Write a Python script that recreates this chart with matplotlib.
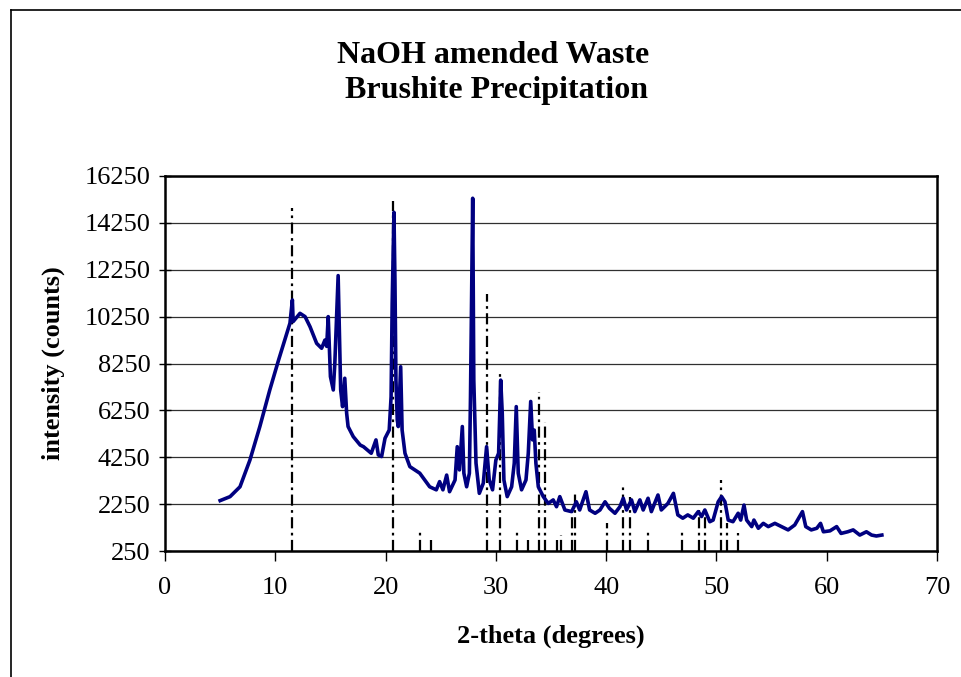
import numpy as np
import matplotlib
matplotlib.use("Agg")
import matplotlib.pyplot as plt
from matplotlib.lines import Line2D

plt.rcParams['font.family'] = ['Liberation Serif', 'DejaVu Serif']

two_theta = [5.0, 5.9, 6.8, 7.7, 8.6, 9.5, 10.3, 11.0, 11.33, 11.55, 11.62, 12.24, 12.7,
             13.15, 13.75, 14.2, 14.5, 14.66, 14.8, 15.0, 15.26, 15.4, 15.7, 15.93, 16.1,
             16.3, 16.47, 16.6, 17.07, 17.7, 18.0, 18.7, 19.13, 19.34, 19.64, 19.95, 20.33,
             20.5, 20.6, 20.76, 20.85, 20.94, 21.06, 21.15, 21.37, 21.5, 21.76, 22.2, 23.1,
             24.0, 24.6, 24.9, 25.2, 25.54, 25.8, 26.3, 26.5, 26.7, 26.96, 27.1, 27.35,
             27.6, 27.7, 27.9, 28.0, 28.2, 28.5, 28.86, 29.16, 29.4, 29.7, 30.0, 30.25,
             30.44, 30.58, 30.73, 31.03, 31.43, 31.67, 31.85, 32.03, 32.33, 32.73, 32.94,
             33.16, 33.33, 33.48, 33.63, 33.85, 34.3, 34.75, 35.2, 35.5, 35.8, 36.26, 36.87,
             37.3, 37.6, 38.17, 38.5, 39.0, 39.44, 39.9, 40.3, 40.8, 41.25, 41.55, 41.85,
             42.3, 42.6, 43.06, 43.36, 43.8, 44.1, 44.7, 45.0, 45.6, 46.1, 46.5, 46.95,
             47.4, 47.9, 48.35, 48.65, 48.95, 49.4, 49.7, 50.16, 50.47, 50.77, 51.07, 51.5,
             51.97, 52.2, 52.5, 52.74, 53.2, 53.4, 53.8, 54.25, 54.7, 55.3, 55.9, 56.5,
             57.1, 57.8, 58.1, 58.6, 59.1, 59.44, 59.7, 60.3, 60.9, 61.3, 61.9, 62.4,
             63.0, 63.6, 64.07, 64.5, 65.0]
counts = [2400, 2570, 2990, 4130, 5560, 7120, 8400, 9470, 9970, 10960, 10040, 10390, 10250,
          9820, 9110, 8900, 9250, 8980, 10250, 7690, 7120, 8270, 12000, 7120, 6410,
          7620, 6130, 5560, 5130, 4770, 4700, 4420, 4990, 4350, 4280, 5060, 5410,
          6830, 10820, 14700, 11810, 7540, 5840, 5560, 8110, 5410, 4420, 3850, 3570,
          2990, 2860, 3210, 2860, 3490, 2780, 3280, 4700, 3710, 5560, 3570, 2990,
          3570, 6830, 15300, 7540, 4000, 2710, 3140, 4700, 3280, 2860, 4130, 4420,
          7540, 6130, 3280, 2570, 2990, 4000, 6410, 3570, 2860, 3280, 4420,
          6630, 4990, 5410, 4000, 2990, 2570, 2280, 2430, 2140, 2570, 2000, 1930,
          2350, 2000, 2780, 2000, 1860, 2000, 2350, 2070, 1860, 2140, 2500, 2000,
          2430, 1930, 2430, 2000, 2500, 1930, 2640, 2000, 2280, 2710, 1790, 1650,
          1790, 1650, 1930, 1720, 2000, 1500, 1570, 2350, 2570, 2350, 1570, 1500,
          1860, 1570, 2210, 1570, 1290, 1570, 1220, 1430, 1290, 1430, 1290, 1150,
          1360, 1930, 1290, 1150, 1220, 1430, 1070, 1110, 1290, 1000, 1070, 1150,
          930, 1070, 930, 890, 930]

# brushite reference peaks (position, height)
ref_pos = [11.55, 20.7, 23.1, 24.1, 29.2, 30.4, 31.9, 32.9, 33.9, 34.45, 35.5, 35.9,
           36.9, 37.2, 40.1, 41.5, 42.2, 43.8, 46.9, 48.4, 49.0, 50.4, 51.0, 52.0]
ref_height = [14900, 15200, 1100, 700, 11200, 7900, 1100, 700, 7050, 5750, 700, 950,
              2150, 2700, 1450, 3050, 2550, 1100, 1100, 2150, 1850, 3300, 1450, 1000]

yticks = [250, 2250, 4250, 6250, 8250, 10250, 12250, 14250, 16250]
xticks = [0, 10, 20, 30, 40, 50, 60, 70]

fig = plt.figure(figsize=(9.61, 6.77), dpi=100)
ax = fig.add_axes([165/961, 1-551/677, (937-165)/961, (551-176)/677])

ax.vlines(ref_pos, 250, ref_height, colors='black', lw=1.6,
          linestyles=(0, (5, 2, 1.2, 2)), zorder=2)
ax.plot(two_theta, counts, color='#000080', lw=2.6, zorder=3)

ax.set_xlim(0, 70)
ax.set_ylim(250, 16250)
ax.set_xticks(xticks)
ax.set_yticks(yticks)
ax.yaxis.grid(True, color='#303030', lw=0.9)
ax.set_axisbelow(True)

for s in ax.spines.values():
    s.set_linewidth(1.8)
ax.tick_params(axis='x', direction='out', length=7, width=1, labelsize=19, pad=12)
ax.tick_params(axis='y', direction='inout', length=9, width=1, labelsize=19, pad=6)

ax.set_xlabel('2-theta (degrees)', fontsize=19, fontweight='bold', labelpad=18)
ax.set_ylabel('intensity (counts)', fontsize=19, fontweight='bold', labelpad=14)

fig.text(0.513, 1-73/677, 'NaOH amended Waste\n Brushite Precipitation', ha='center',
         va='center', fontsize=23, fontweight='bold', linespacing=1.3)

# chart area border (left and top edges only are inside the crop)
x0, y0 = 11/961, 1-10/677
fig.add_artist(Line2D([x0, x0], [0, y0], transform=fig.transFigure, color='black', lw=1.2))
fig.add_artist(Line2D([x0, 1], [y0, y0], transform=fig.transFigure, color='black', lw=1.2))

fig.savefig('out.png', dpi=100)
